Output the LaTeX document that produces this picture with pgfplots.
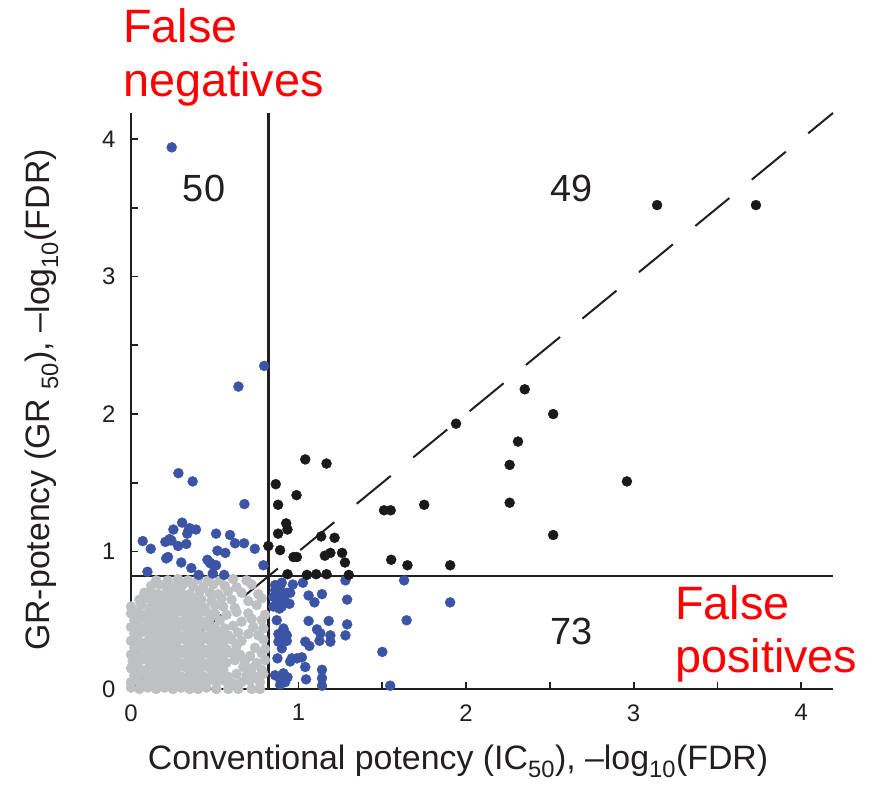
\documentclass[border=0pt]{standalone}
\usepackage{pgfplots}
\pgfplotsset{compat=1.18}
\usepackage{fontspec}
\setmainfont{Liberation Sans}
\definecolor{dotblue}{RGB}{60,84,165}
\definecolor{dotgray}{RGB}{190,192,194}
\definecolor{dotblack}{RGB}{26,26,26}
\definecolor{ink}{RGB}{35,31,32}
\begin{document}
\begin{tikzpicture}
\useasboundingbox (-131bp,-99bp) rectangle (744bp,689bp);
\begin{axis}[
  scale only axis, width=702bp, height=576bp,
  xmin=0, xmax=4.19, ymin=0, ymax=4.19,
  axis x line*=bottom, axis y line*=left,
  axis line style={ink, line width=2.3bp, -},
  xtick={0,1,2,3,4}, ytick={0,1,2,3,4},
  minor xtick={0.5,1.5,2.5,3.5}, minor ytick={0.5,1.5,2.5,3.5},
  tick align=inside, major tick length=7bp, minor tick length=7bp,
  every tick/.style={ink, line width=1.8bp},
  ticklabel style={font=\fontsize{24}{28}\selectfont, text=ink},
  /pgf/number format/assume math mode=true,
  xticklabel style={yshift=-12bp}, yticklabel style={xshift=-12bp},
  clip=false,
  dots/.style={only marks, mark=*, mark size=5bp, color=#1, fill=#1, draw=#1},
]
% compounds significant in neither measure
\addplot[dots=dotgray] coordinates {
(0.00,0.01)(0.05,0.00)(0.10,0.01)(0.15,0.00)(0.20,0.01)(0.25,0.00)(0.30,0.01)(0.35,0.00)(0.40,0.00)(0.45,0.01)(0.51,0.00)(0.58,0.00)(0.64,0.00)(0.72,0.00)(0.77,0.00)
(0.00,0.05)(0.04,0.06)(0.09,0.05)(0.14,0.04)(0.18,0.06)(0.23,0.05)(0.28,0.04)(0.32,0.06)(0.37,0.05)(0.42,0.04)(0.46,0.06)(0.51,0.05)(0.56,0.06)(0.61,0.04)(0.66,0.05)(0.71,0.06)(0.77,0.05)
(0.02,0.10)(0.06,0.11)(0.11,0.09)(0.16,0.10)(0.21,0.11)(0.25,0.10)(0.30,0.09)(0.35,0.11)(0.39,0.10)(0.44,0.09)(0.49,0.11)(0.53,0.10)(0.58,0.09)(0.63,0.11)(0.69,0.10)(0.74,0.09)(0.79,0.11)
(0.00,0.15)(0.04,0.16)(0.09,0.14)(0.13,0.15)(0.18,0.16)(0.23,0.15)(0.27,0.14)(0.32,0.16)(0.37,0.15)(0.41,0.14)(0.46,0.16)(0.50,0.15)(0.55,0.14)(0.67,0.16)(0.72,0.15)(0.78,0.14)
(0.01,0.20)(0.06,0.21)(0.11,0.19)(0.15,0.20)(0.20,0.21)(0.25,0.20)(0.29,0.19)(0.34,0.21)(0.39,0.20)(0.43,0.19)(0.48,0.21)(0.53,0.20)(0.57,0.19)(0.62,0.21)(0.68,0.20)(0.75,0.19)(0.80,0.21)
(0.00,0.25)(0.04,0.26)(0.08,0.24)(0.13,0.25)(0.18,0.26)(0.22,0.25)(0.27,0.24)(0.31,0.26)(0.36,0.25)(0.41,0.24)(0.45,0.26)(0.50,0.25)(0.55,0.24)(0.60,0.26)(0.65,0.25)(0.71,0.24)(0.78,0.26)
(0.02,0.30)(0.06,0.31)(0.10,0.29)(0.15,0.30)(0.20,0.31)(0.24,0.30)(0.29,0.29)(0.34,0.31)(0.38,0.30)(0.43,0.29)(0.48,0.31)(0.52,0.30)(0.57,0.29)(0.63,0.31)(0.74,0.30)(0.80,0.29)
(0.00,0.35)(0.04,0.36)(0.09,0.34)(0.13,0.35)(0.18,0.36)(0.22,0.35)(0.27,0.34)(0.32,0.36)(0.36,0.35)(0.41,0.34)(0.46,0.36)(0.50,0.35)(0.55,0.34)(0.60,0.36)(0.66,0.35)(0.79,0.36)
(0.02,0.40)(0.06,0.41)(0.11,0.39)(0.15,0.40)(0.20,0.41)(0.25,0.40)(0.29,0.39)(0.34,0.41)(0.38,0.40)(0.43,0.39)(0.48,0.41)(0.53,0.40)(0.58,0.39)(0.64,0.41)(0.70,0.40)(0.76,0.39)
(0.00,0.45)(0.04,0.46)(0.08,0.44)(0.13,0.45)(0.17,0.46)(0.22,0.45)(0.27,0.44)(0.31,0.46)(0.36,0.45)(0.40,0.44)(0.45,0.46)(0.50,0.45)(0.56,0.44)(0.61,0.46)(0.73,0.45)(0.79,0.44)
(0.02,0.50)(0.06,0.51)(0.10,0.49)(0.15,0.50)(0.19,0.51)(0.24,0.50)(0.29,0.49)(0.33,0.51)(0.38,0.50)(0.43,0.49)(0.47,0.51)(0.53,0.50)(0.66,0.49)(0.72,0.51)(0.78,0.50)
(0.00,0.55)(0.04,0.56)(0.08,0.54)(0.13,0.55)(0.17,0.56)(0.22,0.55)(0.26,0.54)(0.31,0.56)(0.36,0.55)(0.40,0.54)(0.45,0.56)(0.50,0.55)(0.57,0.54)(0.63,0.56)(0.70,0.55)(0.80,0.54)
(0.00,0.60)(0.06,0.61)(0.11,0.59)(0.15,0.60)(0.20,0.61)(0.24,0.60)(0.29,0.59)(0.34,0.61)(0.39,0.60)(0.44,0.59)(0.50,0.61)(0.55,0.60)(0.62,0.59)(0.75,0.61)
(0.05,0.65)(0.09,0.66)(0.13,0.64)(0.18,0.65)(0.22,0.66)(0.27,0.65)(0.32,0.64)(0.37,0.66)(0.42,0.65)(0.48,0.64)(0.54,0.66)(0.60,0.65)(0.70,0.64)(0.78,0.66)
(0.08,0.70)(0.12,0.71)(0.16,0.69)(0.21,0.70)(0.26,0.71)(0.30,0.70)(0.35,0.69)(0.41,0.71)(0.47,0.70)(0.52,0.69)(0.58,0.71)(0.66,0.70)(0.76,0.69)
(0.12,0.75)(0.17,0.76)(0.22,0.74)(0.27,0.75)(0.31,0.76)(0.37,0.75)(0.43,0.74)(0.49,0.76)(0.56,0.75)(0.63,0.74)(0.72,0.76)
(0.15,0.79)(0.22,0.79)(0.28,0.80)(0.34,0.79)(0.40,0.80)(0.46,0.79)(0.53,0.79)(0.61,0.80)(0.69,0.79)
};
% significant by GR only (false negatives of IC50)
\addplot[dots=dotblue] coordinates {
(0.243,3.94)(0.641,2.20)(0.795,2.35)(0.283,1.57)(0.368,1.51)(0.677,1.345)
(0.07,1.076)(0.118,1.02)(0.098,0.853)(0.253,1.16)(0.305,1.21)(0.345,1.16)
(0.388,1.16)(0.336,1.13)(0.205,1.07)(0.241,1.08)(0.281,1.04)(0.33,1.055)
(0.221,0.96)(0.30,0.92)(0.36,0.88)(0.404,0.83)(0.508,1.13)(0.591,1.12)
(0.621,1.06)(0.675,1.06)(0.739,1.02)(0.516,1.006)(0.563,0.99)(0.456,0.94)
(0.48,0.91)(0.508,0.90)(0.488,0.84)(0.556,0.83)(0.79,0.90)
(0.23,1.09)(0.47,0.92)(0.35,1.17)(0.21,0.95)
};
% significant by IC50 only (false positives)
\addplot[dots=dotblue] coordinates {
(0.86,0.756)(0.90,0.773)(0.88,0.708)(0.91,0.67)(0.85,0.67)(0.87,0.62)(0.92,0.635)
(0.946,0.62)(0.886,0.585)(0.966,0.76)(1.026,0.773)(1.06,0.68)(1.095,0.63)(1.14,0.69)
(1.28,0.79)(1.29,0.65)(1.63,0.79)(1.905,0.63)(1.06,0.495)(1.18,0.495)(1.29,0.47)
(1.645,0.50)(0.91,0.44)(0.92,0.405)(0.89,0.38)(0.91,0.356)(0.88,0.344)(0.93,0.35)
(1.11,0.434)(1.13,0.405)(1.19,0.39)(1.19,0.344)(1.28,0.39)(1.04,0.344)(1.065,0.313)
(1.125,0.35)(0.90,0.296)(1.50,0.27)(0.874,0.223)(0.96,0.223)(0.99,0.223)(1.02,0.23)
(1.04,0.16)(1.14,0.14)(0.91,0.114)(0.934,0.085)(0.89,0.07)(1.045,0.07)(1.14,0.078)
(1.14,0.024)(0.89,0.03)(1.547,0.024)
(0.86,0.72)(0.89,0.75)(0.87,0.65)(0.93,0.70)(0.85,0.60)(0.90,0.60)(0.95,0.70)
(0.88,0.40)(0.93,0.39)(0.95,0.20)(0.86,0.10)(0.92,0.05)(0.87,0.50)
};
% significant by both measures
\addplot[dots=dotblack] coordinates {
(3.14,3.52)(3.73,3.52)(2.35,2.18)(2.52,2.00)(1.94,1.93)(2.31,1.80)(2.26,1.63)
(2.96,1.51)(1.75,1.34)(2.26,1.355)(2.52,1.12)(1.65,0.90)(1.905,0.90)
(1.04,1.67)(1.167,1.64)(0.864,1.49)(0.988,1.41)(0.878,1.34)(1.51,1.30)(1.55,1.30)
(0.926,1.205)(0.934,1.16)(0.878,1.13)(1.135,1.11)(1.215,1.10)(0.82,1.04)(0.89,1.01)
(0.97,0.96)(0.99,0.96)(1.157,0.97)(1.19,0.99)(1.26,0.99)(1.277,0.92)(1.553,0.94)
(0.934,0.835)(1.05,0.83)(1.105,0.835)(1.167,0.835)(1.30,0.83)
};
% significance thresholds and identity line
\addplot[ink, line width=2.3bp, no marks] coordinates {(0.82,0) (0.82,4.19)};
\addplot[ink, line width=2.3bp, no marks] coordinates {(0,0.82) (4.19,0.82)};
\addplot[ink, line width=2bp, no marks, dash pattern=on 44bp off 29bp] coordinates {(0,0) (4.19,4.19)};
% quadrant counts
\node[font=\fontsize{38}{40}\selectfont, text=ink] at (axis cs:0.436,3.64) {50};
\node[font=\fontsize{38}{40}\selectfont, text=ink] at (axis cs:2.63,3.64) {49};
\node[font=\fontsize{38}{40}\selectfont, text=ink] at (axis cs:2.63,0.415) {73};
\end{axis}
% axis titles
\node[anchor=base, font=\fontsize{34}{40}\selectfont, text=ink] at (327bp,-80bp)
  {Conventional potency (IC\textsubscript{50}), --log\textsubscript{10}(FDR)};
\node[anchor=base, rotate=90, font=\fontsize{34}{40}\selectfont, text=ink] at (-81bp,289bp)
  {GR-potency (GR \textsubscript{50}), --log\textsubscript{10}(FDR)};
% quadrant annotations
\node[anchor=base west, inner sep=0pt, text=red, font=\fontsize{47}{54}\selectfont] at (-8bp,646bp) {False};
\node[anchor=base west, inner sep=0pt, text=red, font=\fontsize{47}{54}\selectfont] at (-8bp,592bp) {negatives};
\node[anchor=base west, inner sep=0pt, text=red, font=\fontsize{47}{54}\selectfont] at (544bp,69bp) {False};
\node[anchor=base west, inner sep=0pt, text=red, font=\fontsize{47}{54}\selectfont] at (544bp,17bp) {positives};
\end{tikzpicture}
\end{document}
